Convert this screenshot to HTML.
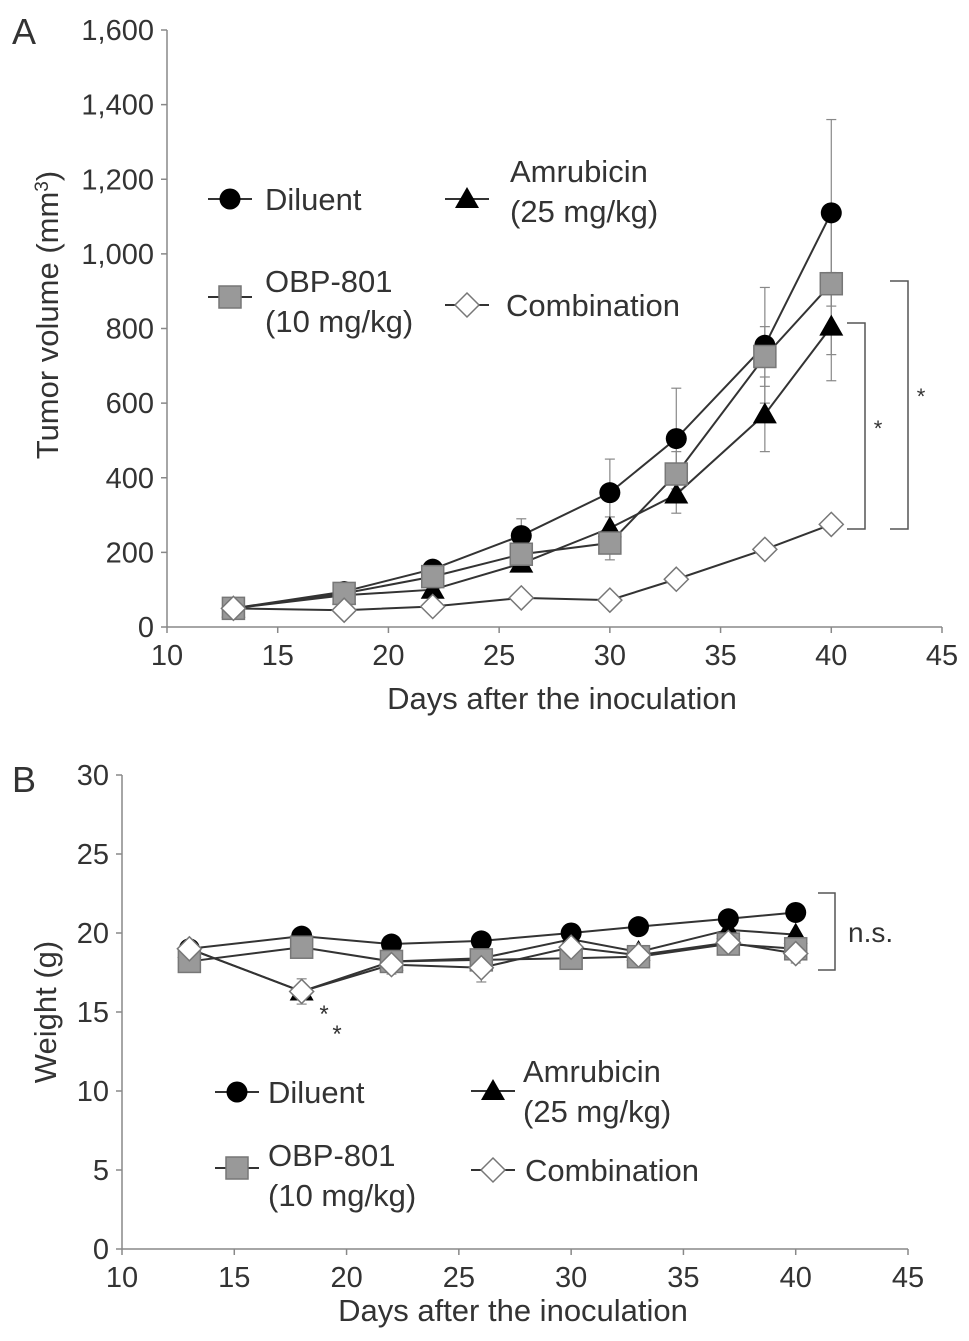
<!DOCTYPE html>
<html><head><meta charset="utf-8"><style>
body{margin:0;background:#fff}
svg{display:block;font-family:"Liberation Sans",sans-serif}
text{fill:#333}
</style></head><body>
<svg id="chart" width="969" height="1341" viewBox="0 0 969 1341" xmlns="http://www.w3.org/2000/svg"></svg>
<script>
const days=[13,18,22,26,30,33,37,40];
const xTicks=[10,15,20,25,30,35,40,45];
const aTicks=[0,200,400,600,800,1000,1200,1400,1600];
const aTickLabels=["0","200","400","600","800","1,000","1,200","1,400","1,600"];
const bTicks=[0,5,10,15,20,25,30];
const aDiluent=[50,95,155,245,360,505,755,1110];
const aDiluentErr=[0,10,15,45,90,135,155,250];
const aAmru=[50,85,100,170,265,355,570,805];
const aAmruErr=[0,8,10,20,30,50,100,145];
const aObp=[50,90,135,195,225,410,725,920];
const aObpErr=[0,10,20,30,45,60,80,190];
const aComb=[50,45,55,78,72,128,208,275];
const aCombErr=[0,5,5,8,8,10,15,20];
const bDiluent=[19.0,19.8,19.3,19.5,20.0,20.4,20.9,21.3];
const bAmru=[19.0,16.3,18.2,18.4,19.6,18.8,20.2,19.9];
const bObp=[18.2,19.1,18.2,18.3,18.4,18.5,19.3,19.0];
const bComb=[19.0,16.3,18.0,17.8,19.1,18.6,19.4,18.7];
const bCombErr=[0,0.8,0.6,0.9,0.5,0.4,0.5,0.6];

const NS="http://www.w3.org/2000/svg";
const svg=document.getElementById('chart');
function mk(tag,attrs,parent,name,txt){
 const e=document.createElementNS(NS,tag);
 for(const k in attrs)e.setAttribute(k,attrs[k]);
 
 
 if(txt!==undefined)e.textContent=txt;
 (parent||svg).appendChild(e);return e;
}
function marker(g,type,x,y,name){
 if(type==='circle')return mk('circle',{cx:x,cy:y,r:10.5,fill:'#000'},g,name);
 if(type==='tri')return mk('polygon',{points:`${x},${y-12} ${x+12},${y+9} ${x-12},${y+9}`,fill:'#000'},g,name);
 if(type==='square')return mk('rect',{x:x-11,y:y-11,width:22,height:22,fill:'#999',stroke:'#777','stroke-width':1.5},g,name);
 return mk('polygon',{points:`${x},${y-12} ${x+12},${y} ${x},${y+12} ${x-12},${y}`,fill:'#fff',stroke:'#777','stroke-width':1.5},g,name);
}
function panel(cfg){
 const g=mk('g',{},svg,cfg.name);
 const X=d=>cfg.x0+(d-10)*(cfg.x1-cfg.x0)/35;
 const Y=v=>cfg.y0-v*(cfg.y0-cfg.y1)/cfg.ymax;
 mk('line',{x1:cfg.x0,y1:cfg.y1,x2:cfg.x0,y2:cfg.y0,stroke:'#888','stroke-width':1.5},g,'y-axis-line');
 mk('line',{x1:cfg.x0,y1:cfg.y0,x2:cfg.x1,y2:cfg.y0,stroke:'#888','stroke-width':1.5},g,'x-axis-line');
 cfg.yticks.forEach((t,i)=>{
  mk('line',{x1:cfg.x0-6,y1:Y(t),x2:cfg.x0,y2:Y(t),stroke:'#888','stroke-width':1.5},g,'y-tick');
  mk('text',{x:cfg.x0-13,y:Y(t)+10,'text-anchor':'end','font-size':29},g,'y-tick-label',cfg.ylabels[i]);
 });
 xTicks.forEach(t=>{
  mk('line',{x1:X(t),y1:cfg.y0,x2:X(t),y2:cfg.y0+6,stroke:'#888','stroke-width':1.5},g,'x-tick');
  mk('text',{x:X(t),y:cfg.y0+38,'text-anchor':'middle','font-size':29},g,'x-tick-label',String(t));
 });
 cfg.series.forEach(s=>{
  const sg=mk('g',{},g,s.name);
  if(s.err)s.vals.forEach((v,i)=>{
   if(!s.err[i])return;
   const x=X(days[i]);
   mk('line',{x1:x,y1:Y(v-s.err[i]),x2:x,y2:Y(v+s.err[i]),stroke:'#888','stroke-width':1.2},sg,'error-bar');
   mk('line',{x1:x-5,y1:Y(v+s.err[i]),x2:x+5,y2:Y(v+s.err[i]),stroke:'#888','stroke-width':1.2},sg,'error-cap');
   mk('line',{x1:x-5,y1:Y(v-s.err[i]),x2:x+5,y2:Y(v-s.err[i]),stroke:'#888','stroke-width':1.2},sg,'error-cap');
  });
  mk('polyline',{points:s.vals.map((v,i)=>X(days[i])+','+Y(v)).join(' '),fill:'none',stroke:'#333','stroke-width':2},sg,'series-line');
 });
 cfg.series.forEach(s=>{
  s.vals.forEach((v,i)=>marker(g,s.m,X(days[i]),Y(v),s.name+'-point'));
 });
 return g;
}
panel({name:'panel-a-plot',x0:167,x1:942,y0:627,y1:30,ymax:1600,yticks:aTicks,ylabels:aTickLabels,series:[
 {name:'diluent-series',vals:aDiluent,err:aDiluentErr,m:'circle'},
 {name:'amrubicin-series',vals:aAmru,err:aAmruErr,m:'tri'},
 {name:'obp801-series',vals:aObp,err:aObpErr,m:'square'},
 {name:'combination-series',vals:aComb,err:aCombErr,m:'diamond'}]});
panel({name:'panel-b-plot',x0:122,x1:908,y0:1249,y1:775,ymax:30,yticks:bTicks,ylabels:bTicks.map(String),series:[
 {name:'diluent-series',vals:bDiluent,m:'circle'},
 {name:'amrubicin-series',vals:bAmru,m:'tri'},
 {name:'obp801-series',vals:bObp,m:'square'},
 {name:'combination-series',vals:bComb,err:bCombErr,m:'diamond'}]});

function legend(items){
 items.forEach(it=>{
  const g=mk('g',{},svg,it.name);
  mk('line',{x1:it.x-22,y1:it.y,x2:it.x+22,y2:it.y,stroke:'#333','stroke-width':2},g,'legend-line');
  marker(g,it.m,it.x,it.y,'legend-marker');
  it.lines.forEach((l,i)=>mk('text',{x:it.tx,y:it.ty+i*40,'font-size':31},g,'legend-label',l));
 });
}
legend([
 {name:'legend-a-diluent',m:'circle',x:230,y:199,tx:265,ty:210,lines:['Diluent']},
 {name:'legend-a-amrubicin',m:'tri',x:467,y:199,tx:510,ty:182,lines:['Amrubicin','(25 mg/kg)']},
 {name:'legend-a-obp801',m:'square',x:230,y:297,tx:265,ty:292,lines:['OBP-801','(10 mg/kg)']},
 {name:'legend-a-combination',m:'diamond',x:467,y:305,tx:506,ty:316,lines:['Combination']},
 {name:'legend-b-diluent',m:'circle',x:237,y:1092,tx:268,ty:1103,lines:['Diluent']},
 {name:'legend-b-amrubicin',m:'tri',x:493,y:1091,tx:523,ty:1082,lines:['Amrubicin','(25 mg/kg)']},
 {name:'legend-b-obp801',m:'square',x:237,y:1168,tx:268,ty:1166,lines:['OBP-801','(10 mg/kg)']},
 {name:'legend-b-combination',m:'diamond',x:493,y:1170,tx:525,ty:1181,lines:['Combination']}
]);
function bracket(x1,x2,ya,yb,name){
 mk('polyline',{points:`${x1},${ya} ${x2},${ya} ${x2},${yb} ${x1},${yb}`,fill:'none',stroke:'#555','stroke-width':1.5},svg,name);
}
bracket(847,865,323,529,'significance-bracket-inner');
bracket(890,908,281,529,'significance-bracket-outer');
bracket(818,835,893,970,'ns-bracket');
mk('text',{x:878,y:436,'font-size':22,'text-anchor':'middle'},svg,'significance-star','*');
mk('text',{x:921,y:404,'font-size':22,'text-anchor':'middle'},svg,'significance-star','*');
mk('text',{x:848,y:942,'font-size':28},svg,'ns-label','n.s.');
mk('text',{x:324,y:1022,'font-size':24,'text-anchor':'middle'},svg,'significance-star','*');
mk('text',{x:337,y:1042,'font-size':24,'text-anchor':'middle'},svg,'significance-star','*');
mk('text',{x:12,y:44,'font-size':36},svg,'panel-a-label','A');
mk('text',{x:12,y:792,'font-size':36},svg,'panel-b-label','B');
const yt=mk('text',{x:0,y:0,'font-size':31,'text-anchor':'middle',transform:'translate(58,315) rotate(-90)'},svg,'panel-a-y-axis-title','Tumor volume (mm');
const sup=document.createElementNS(NS,'tspan');sup.setAttribute('baseline-shift','super');sup.setAttribute('font-size','19');sup.textContent='3';


yt.appendChild(sup);
const cl=document.createElementNS(NS,'tspan');cl.textContent=')';


yt.appendChild(cl);
mk('text',{x:0,y:0,'font-size':31,'text-anchor':'middle',transform:'translate(56,1012) rotate(-90)'},svg,'panel-b-y-axis-title','Weight (g)');
mk('text',{x:562,y:709,'font-size':31,'text-anchor':'middle'},svg,'panel-a-x-axis-title','Days after the inoculation');
mk('text',{x:513,y:1321,'font-size':31,'text-anchor':'middle'},svg,'panel-b-x-axis-title','Days after the inoculation');
</script>
</body></html>
